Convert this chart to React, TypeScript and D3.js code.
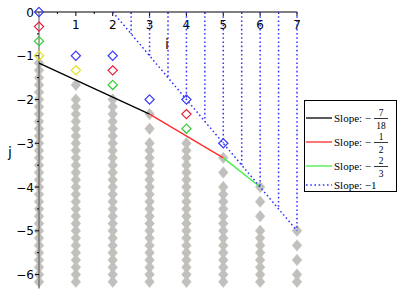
import React from 'react';
import * as d3 from 'd3';

// columns of the lattice (i values)
const columns = [0, 1, 2, 3, 4, 5, 6, 7];
// gray points, j given in sixths
const grayRunStart = [-7, -12, -12, -18, -18, -24, -30, -36];
const grayRunEnd = -37;
const grayIsolated: [number, number][] = [
  [1, -10], [3, -14], [3, -16], [5, -20], [5, -22],
  [6, -24], [6, -26], [6, -28], [7, -30], [7, -32], [7, -34],
];

// open markers
const bluePts: [number, number][] = [[0, 0], [1, -1], [2, -1], [3, -2], [4, -2], [5, -3]];
const redPts: [number, number][] = [[0, -1 / 3], [2, -4 / 3], [4, -7 / 3]];
const greenPts: [number, number][] = [[0, -2 / 3], [2, -5 / 3], [4, -8 / 3]];
const yellowPts: [number, number][] = [[0, -1], [1, -4 / 3]];

// slope segments
const blackSeg: [number, number][] = [[0, -7 / 6], [3, -7 / 3]];
const redSeg: [number, number][] = [[3, -7 / 3], [5, -10 / 3]];
const greenSeg: [number, number][] = [[5, -10 / 3], [6, -4]];
const blueSeg: [number, number][] = [[2, 0], [7, -5]];
const blueVerticals = [2.5, 3, 3.5, 4, 4.5, 5, 5.5, 6, 6.5, 7];

const xTicks = [1, 2, 3, 4, 5, 6, 7];
const yTicks = [0, -1, -2, -3, -4, -5, -6];

const legendItems = [
  { color: '#000000', num: '7', den: '18', dotted: false },
  { color: '#ff2a2a', num: '1', den: '2', dotted: false },
  { color: '#44ee44', num: '2', den: '3', dotted: false },
  { color: '#3333ff', num: '', den: '', dotted: true },
];

const x = d3.scaleLinear().domain([0, 7]).range([39, 297]);
const y = d3.scaleLinear().domain([0, -6.25]).range([12, 285.5]);

const diamond = (cx: number, cy: number, rx: number, ry: number) =>
  `M${cx},${cy - ry}L${cx + rx},${cy}L${cx},${cy + ry}L${cx - rx},${cy}Z`;

const line = d3.line<[number, number]>().x(d => x(d[0])).y(d => y(d[1]));

export default function App() {
  const gray: [number, number][] = [];
  columns.forEach((c, k) => {
    d3.range(grayRunStart[k], grayRunEnd - 1, -1).forEach(s => gray.push([c, s / 6]));
  });
  grayIsolated.forEach(([c, s]) => gray.push([c, s / 6]));

  const font = '"DejaVu Sans", sans-serif';
  const serif = '"Liberation Serif", "DejaVu Serif", serif';
  const open = (pts: [number, number][], color: string) =>
    pts.map((p, k) => (
      <path key={color + k} d={diamond(x(p[0]), y(p[1]), 4.6, 4.6)} fill="none" stroke={color} strokeWidth={1.2} />
    ));

  const xMinor = d3.range(0.5, 7, 1);
  const yMinor = d3.range(-0.5, -6.25, -1);
  const dots = '1.6,2.6';

  return (
    <svg width={399} height={300} style={{ position: 'absolute', left: 0, top: 0 }}>
      <rect width={399} height={300} fill="#ffffff" />
      {gray.map((p, k) => (
        <path key={'g' + k} d={diamond(x(p[0]), y(p[1]), 4.8, 5.7)} fill="#c0c0c0" stroke="#cbbfa8" strokeWidth={0.5} />
      ))}
      {/* axes */}
      <line x1={x(0)} x2={x(7)} y1={y(0)} y2={y(0)} stroke="#000" strokeWidth={1} />
      <line x1={x(0)} x2={x(0)} y1={y(0)} y2={y(-6.25) + 3} stroke="#555" strokeWidth={1} />
      {xTicks.map(t => (
        <g key={'xt' + t}>
          <line x1={x(t)} x2={x(t)} y1={y(0)} y2={y(0) + 4} stroke="#000" />
          <text x={x(t)} y={y(0) + 17} textAnchor="middle" fontFamily={font} fontSize={12}>{t}</text>
        </g>
      ))}
      {xMinor.map(t => (
        <line key={'xm' + t} x1={x(t)} x2={x(t)} y1={y(0)} y2={y(0) + 2} stroke="#000" />
      ))}
      {yTicks.map(t => (
        <g key={'yt' + t}>
          <line x1={x(0)} x2={x(0) - 4} y1={y(t)} y2={y(t)} stroke="#000" />
          <text x={x(0) - 5} y={y(t) + 4.5} textAnchor="end" fontFamily={font} fontSize={12}>
            {t === 0 ? '0' : '\u2212' + Math.abs(t)}
          </text>
        </g>
      ))}
      {yMinor.map(t => (
        <line key={'ym' + t} x1={x(0)} x2={x(0) - 2} y1={y(t)} y2={y(t)} stroke="#000" />
      ))}
      <text x={167} y={49} textAnchor="middle" fontFamily={font} fontSize={14}>i</text>
      <text x={10} y={157} textAnchor="middle" fontFamily={font} fontSize={14}>j</text>
      {/* slope lines */}
      <path d={line(blackSeg) || ''} stroke="#000" strokeWidth={1.3} fill="none" />
      <path d={line(redSeg) || ''} stroke="#ff2a2a" strokeWidth={1.3} fill="none" />
      <path d={line(greenSeg) || ''} stroke="#44ee44" strokeWidth={1.3} fill="none" />
      <path d={line(blueSeg) || ''} stroke="#3333ff" strokeWidth={1.5} strokeDasharray={dots} fill="none" />
      {blueVerticals.map(v => (
        <line key={'bv' + v} x1={x(v)} x2={x(v)} y1={y(0)} y2={y(2 - v)} stroke="#3333ff" strokeWidth={1.5} strokeDasharray={dots} />
      ))}
      {open(bluePts, '#3a3aff')}
      {open(redPts, '#e8203c')}
      {open(greenPts, '#33cc33')}
      {open(yellowPts, '#e0e020')}
      {/* legend */}
      <rect x={304.5} y={100.5} width={92} height={91} fill="#fff" stroke="#000" strokeWidth={1} />
      {legendItems.map((it, k) => {
        const cy = [118, 142, 166, 185][k];
        return (
          <g key={'lg' + k}>
            <line x1={306} x2={332} y1={cy} y2={cy} stroke={it.color}
              strokeWidth={it.dotted ? 1.5 : 1.3} strokeDasharray={it.dotted ? dots : undefined} />
            <text x={334} y={cy + 4} fontFamily={serif} fontSize={11}>
              {it.dotted ? 'Slope: \u22121' : 'Slope: \u2212'}
            </text>
            {!it.dotted && (
              <g>
                <text x={381} y={cy - 2.5} textAnchor="middle" fontFamily={serif} fontSize={9.5}>{it.num}</text>
                <line x1={374} x2={388} y1={cy + 0.5} y2={cy + 0.5} stroke="#000" strokeWidth={0.8} />
                <text x={381} y={cy + 10.5} textAnchor="middle" fontFamily={serif} fontSize={9.5}>{it.den}</text>
              </g>
            )}
          </g>
        );
      })}
    </svg>
  );
}
